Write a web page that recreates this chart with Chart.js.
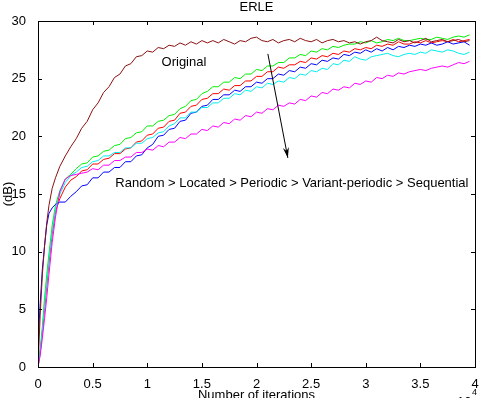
<!DOCTYPE html>
<html>
<head>
<meta charset="utf-8">
<script src="https://cdn.jsdelivr.net/npm/chart.js@4/dist/chart.umd.min.js"></script>
<style>
  html, body { margin: 0; padding: 0; background: #fff; }
  #wrap { width: 481px; height: 398px; }
</style>
</head>
<body>
<div id="wrap"><canvas id="erle"></canvas></div>
<script>
// iterations (x 10^4)
const iteracoes = [0, 0.02, 0.04, 0.06, 0.08, 0.1, 0.13, 0.16, 0.2, 0.25, 0.3, 0.35,
    0.4, 0.45, 0.5, 0.55, 0.6, 0.65, 0.7, 0.75, 0.8, 0.85, 0.9, 0.95,
    1.0, 1.05, 1.1, 1.15, 1.2, 1.25, 1.3, 1.35, 1.4, 1.45, 1.5, 1.55,
    1.6, 1.65, 1.7, 1.75, 1.8, 1.85, 1.9, 1.95, 2.0, 2.05, 2.1, 2.15,
    2.2, 2.25, 2.3, 2.35, 2.4, 2.45, 2.5, 2.55, 2.6, 2.65, 2.7, 2.75,
    2.8, 2.85, 2.9, 2.95, 3.0, 3.05, 3.1, 3.15, 3.2, 3.25, 3.3, 3.35,
    3.4, 3.45, 3.5, 3.55, 3.6, 3.65, 3.7, 3.75, 3.8, 3.85, 3.9, 3.95];

// ERLE (dB) of each curve
const original = [0, 4.5, 8, 10.5, 12.5, 14, 15.5, 16.4, 17.4, 18.3, 19.1, 19.8,
    20.7, 21.3, 22.3, 22.9, 23.8, 24.3, 25.1, 25.4, 26.1, 26.3, 26.9, 27.0,
    27.4, 27.3, 27.7, 27.6, 27.9, 27.8, 28.1, 27.9, 28.2, 28.0, 28.3, 28.1,
    28.3, 28.1, 28.4, 28.2, 28.0, 28.3, 28.2, 28.5, 28.6, 28.3, 28.2, 28.4,
    28.1, 28.3, 28.4, 28.2, 28.5, 28.3, 28.2, 28.4, 28.1, 28.3, 28.4, 28.2,
    28.3, 28.1, 28.2, 28.0, 28.2, 28.3, 28.6, 28.3, 28.2, 28.1, 28.4, 28.2,
    28.3, 28.1, 28.3, 28.5, 28.2, 28.3, 28.4, 28.2, 28.3, 28.4, 28.2, 28.3];
const random = [0, 1.5, 3.5, 6, 8, 9.8, 12.3, 14.0, 15.3, 16.3, 16.7, 17.2,
    17.6, 17.7, 18.2, 18.3, 18.7, 18.8, 19.2, 19.3, 19.8, 19.9, 20.3, 20.4,
    20.9, 20.9, 21.3, 21.4, 21.8, 21.9, 22.4, 22.6, 23.1, 23.2, 23.7, 23.9,
    24.3, 24.3, 24.7, 24.7, 25.1, 25.0, 25.4, 25.4, 25.8, 25.7, 26.1, 26.1,
    26.4, 26.4, 26.8, 26.8, 27.1, 27.0, 27.4, 27.3, 27.6, 27.5, 27.8, 27.7,
    27.9, 28.0, 28.0, 28.2, 28.1, 28.3, 28.1, 28.2, 28.4, 28.3, 28.5, 28.3,
    28.3, 28.4, 28.5, 28.4, 28.4, 28.6, 28.5, 28.4, 28.6, 28.7, 28.6, 28.8];
const located = [0, 1.2, 3, 5, 7, 9, 11.5, 13.5, 14.6, 15.6, 16.2, 16.5,
    17.0, 17.1, 17.6, 17.6, 18.0, 18.1, 18.5, 18.5, 18.9, 19.0, 19.5, 19.6,
    20.1, 20.2, 20.7, 20.8, 21.3, 21.4, 22.0, 22.1, 22.6, 22.7, 23.2, 23.3,
    23.7, 23.7, 24.1, 24.0, 24.4, 24.4, 24.8, 24.8, 25.2, 25.2, 25.6, 25.6,
    26.0, 25.9, 26.2, 26.2, 26.5, 26.4, 26.8, 26.7, 27.0, 26.9, 27.2, 27.1,
    27.4, 27.3, 27.6, 27.5, 27.7, 27.6, 27.9, 27.8, 28.0, 27.9, 28.2, 28.0,
    28.0, 28.2, 28.1, 28.3, 28.1, 28.2, 28.3, 28.2, 28.4, 28.2, 28.3, 28.4];
const periodic = [2, 5.5, 8.5, 10.5, 12.3, 13.3, 13.8, 14.1, 14.3, 14.3, 14.8, 15.2,
    15.7, 15.8, 16.4, 16.4, 16.9, 16.9, 17.3, 17.3, 17.8, 17.8, 18.3, 18.4,
    19.0, 19.3, 20.0, 20.1, 20.6, 20.7, 21.3, 21.4, 22.0, 22.1, 22.6, 22.7,
    23.2, 23.2, 23.6, 23.6, 24.0, 23.9, 24.3, 24.3, 24.7, 24.6, 25.0, 25.0,
    25.4, 25.3, 25.7, 25.6, 26.0, 25.9, 26.3, 26.2, 26.6, 26.5, 26.8, 26.7,
    27.1, 27.0, 27.3, 27.2, 27.5, 27.3, 27.6, 27.4, 27.7, 27.5, 27.8, 27.7,
    27.9, 27.8, 28.0, 27.9, 28.1, 27.9, 28.0, 28.2, 28.0, 28.1, 28.2, 27.9];
const variantPeriodic = [0, 1.3, 3.2, 5.3, 7.3, 9.3, 11.8, 13.7, 15.0, 16.0, 16.6, 16.9,
    17.3, 17.4, 17.8, 17.9, 18.3, 18.3, 18.6, 18.6, 19.0, 19.0, 19.4, 19.4,
    19.8, 19.9, 20.3, 20.4, 20.9, 21.1, 21.6, 21.6, 22.1, 22.1, 22.5, 22.5,
    22.9, 22.9, 23.3, 23.3, 23.7, 23.6, 24.0, 23.9, 24.3, 24.2, 24.6, 24.5,
    24.8, 24.7, 25.1, 25.0, 25.4, 25.3, 25.7, 25.6, 25.9, 25.8, 26.3, 26.2,
    26.6, 26.5, 26.9, 26.7, 26.6, 26.9, 27.0, 27.1, 27.2, 27.0, 26.9, 27.1,
    27.2, 27.1, 27.3, 27.2, 27.5, 27.4, 27.3, 27.5, 27.4, 27.2, 27.1, 27.3];
const sequential = [0, 1, 2.5, 4.2, 6, 8, 10.8, 13, 15.2, 16.3, 16.6, 16.7,
    16.8, 16.9, 17.2, 17.1, 17.5, 17.5, 17.9, 17.9, 18.2, 18.2, 18.6, 18.6,
    18.9, 18.8, 19.2, 19.1, 19.5, 19.5, 19.9, 19.8, 20.2, 20.2, 20.6, 20.5,
    20.9, 20.8, 21.2, 21.1, 21.5, 21.4, 21.8, 21.7, 22.1, 22.0, 22.4, 22.3,
    22.7, 22.6, 22.9, 22.8, 23.2, 23.1, 23.5, 23.4, 23.8, 23.7, 24.1, 24.0,
    24.3, 24.2, 24.6, 24.5, 24.8, 24.7, 25.1, 25.0, 25.3, 25.2, 25.5, 25.4,
    25.6, 25.7, 25.8, 25.7, 25.9, 26.0, 26.1, 26.0, 26.2, 26.4, 26.3, 26.5];

const xTicks = [0, 0.5, 1, 1.5, 2, 2.5, 3, 3.5, 4];
const yTicks = [0, 5, 10, 15, 20, 25, 30];

const fonte = '"Liberation Sans", Arial, sans-serif';

function pontos(valores) {
    return iteracoes.map((x, i) => ({ x: x, y: valores[i] }));
}

function serie(label, valores, cor) {
    return {
        label: label,
        data: pontos(valores),
        borderColor: cor,
        borderWidth: 1,
        pointRadius: 0,
        tension: 0,
        fill: false
    };
}

// box, inward ticks and the annotations (MATLAB look)
const moldura = {
    id: 'moldura',
    afterDraw(chart) {
        const ctx = chart.ctx;
        const a = chart.chartArea;
        const sx = chart.scales.x;
        const sy = chart.scales.y;
        ctx.save();
        ctx.strokeStyle = '#000';
        ctx.lineWidth = 1;
        ctx.strokeRect(a.left + 0.5, a.top + 0.5, a.right - a.left, a.bottom - a.top);
        ctx.beginPath();
        xTicks.forEach(v => {
            const px = Math.round(sx.getPixelForValue(v)) + 0.5;
            ctx.moveTo(px, a.bottom); ctx.lineTo(px, a.bottom - 4);
            ctx.moveTo(px, a.top); ctx.lineTo(px, a.top + 4);
        });
        yTicks.forEach(v => {
            const py = Math.round(sy.getPixelForValue(v)) + 0.5;
            ctx.moveTo(a.left, py); ctx.lineTo(a.left + 4, py);
            ctx.moveTo(a.right, py); ctx.lineTo(a.right - 4, py);
        });
        ctx.stroke();

        ctx.fillStyle = '#000';
        ctx.font = '13px ' + fonte;
        ctx.textAlign = 'center';
        ctx.textBaseline = 'middle';
        ctx.fillText('ERLE', (a.left + a.right) / 2, 7);
        ctx.fillText('Number of iterations', (a.left + a.right) / 2, 395);

        ctx.fillText('Original', sx.getPixelForValue(1.336), sy.getPixelForValue(26.4));
        ctx.fillText('Random > Located > Periodic > Variant-periodic > Sequential',
            sx.getPixelForValue(2.324), sy.getPixelForValue(15.96));

        ctx.textAlign = 'left';
        ctx.fillText('10', 457, 402);
        ctx.font = '9px ' + fonte;
        ctx.fillText('4', 472, 393);

        ctx.save();
        ctx.font = '13px ' + fonte;
        ctx.textAlign = 'center';
        ctx.translate(8, (a.top + a.bottom) / 2);
        ctx.rotate(-Math.PI / 2);
        ctx.fillText('(dB)', 0, 0);
        ctx.restore();

        // arrow
        const x1 = sx.getPixelForValue(2.104), y1 = sy.getPixelForValue(27.15);
        const x2 = sx.getPixelForValue(2.287), y2 = sy.getPixelForValue(18.13);
        ctx.beginPath();
        ctx.moveTo(x1, y1);
        ctx.lineTo(x2, y2);
        ctx.stroke();
        const ang = Math.atan2(y2 - y1, x2 - x1);
        ctx.beginPath();
        ctx.moveTo(x2, y2);
        ctx.lineTo(x2 - 11 * Math.cos(ang - 0.28), y2 - 11 * Math.sin(ang - 0.28));
        ctx.lineTo(x2 - 7 * Math.cos(ang), y2 - 7 * Math.sin(ang));
        ctx.lineTo(x2 - 11 * Math.cos(ang + 0.28), y2 - 11 * Math.sin(ang + 0.28));
        ctx.closePath();
        ctx.fill();
        ctx.restore();
    }
};

new Chart(document.getElementById('erle'), {
    type: 'line',
    data: {
        datasets: [
            serie('Original', original, '#8b1010'),
            serie('Sequential', sequential, '#ff00ff'),
            serie('Variant-periodic', variantPeriodic, '#00eeee'),
            serie('Periodic', periodic, '#0000ff'),
            serie('Located', located, '#ff0000'),
            serie('Random', random, '#00ee00')
        ]
    },
    options: {
        responsive: true,
        maintainAspectRatio: false,
        animation: false,
        layout: { padding: { left: 0, top: 21, right: 6, bottom: 0 } },
        plugins: {
            legend: { display: false },
            tooltip: { enabled: false }
        },
        scales: {
            x: {
                type: 'linear',
                min: 0,
                max: 4,
                grid: { display: false },
                border: { display: false },
                afterBuildTicks: s => { s.ticks = xTicks.map(v => ({ value: v })); },
                afterFit: s => { s.height = 31; },
                ticks: {
                    color: '#000',
                    font: { family: fonte, size: 13 },
                    padding: 2,
                    maxRotation: 0,
                    callback: v => String(v)
                }
            },
            y: {
                min: 0,
                max: 30,
                grid: { display: false },
                border: { display: false },
                afterBuildTicks: s => { s.ticks = yTicks.map(v => ({ value: v })); },
                afterFit: s => { s.width = 38; },
                ticks: {
                    color: '#000',
                    font: { family: fonte, size: 13 },
                    padding: 4
                }
            }
        }
    },
    plugins: [moldura]
});
</script>
</body>
</html>
